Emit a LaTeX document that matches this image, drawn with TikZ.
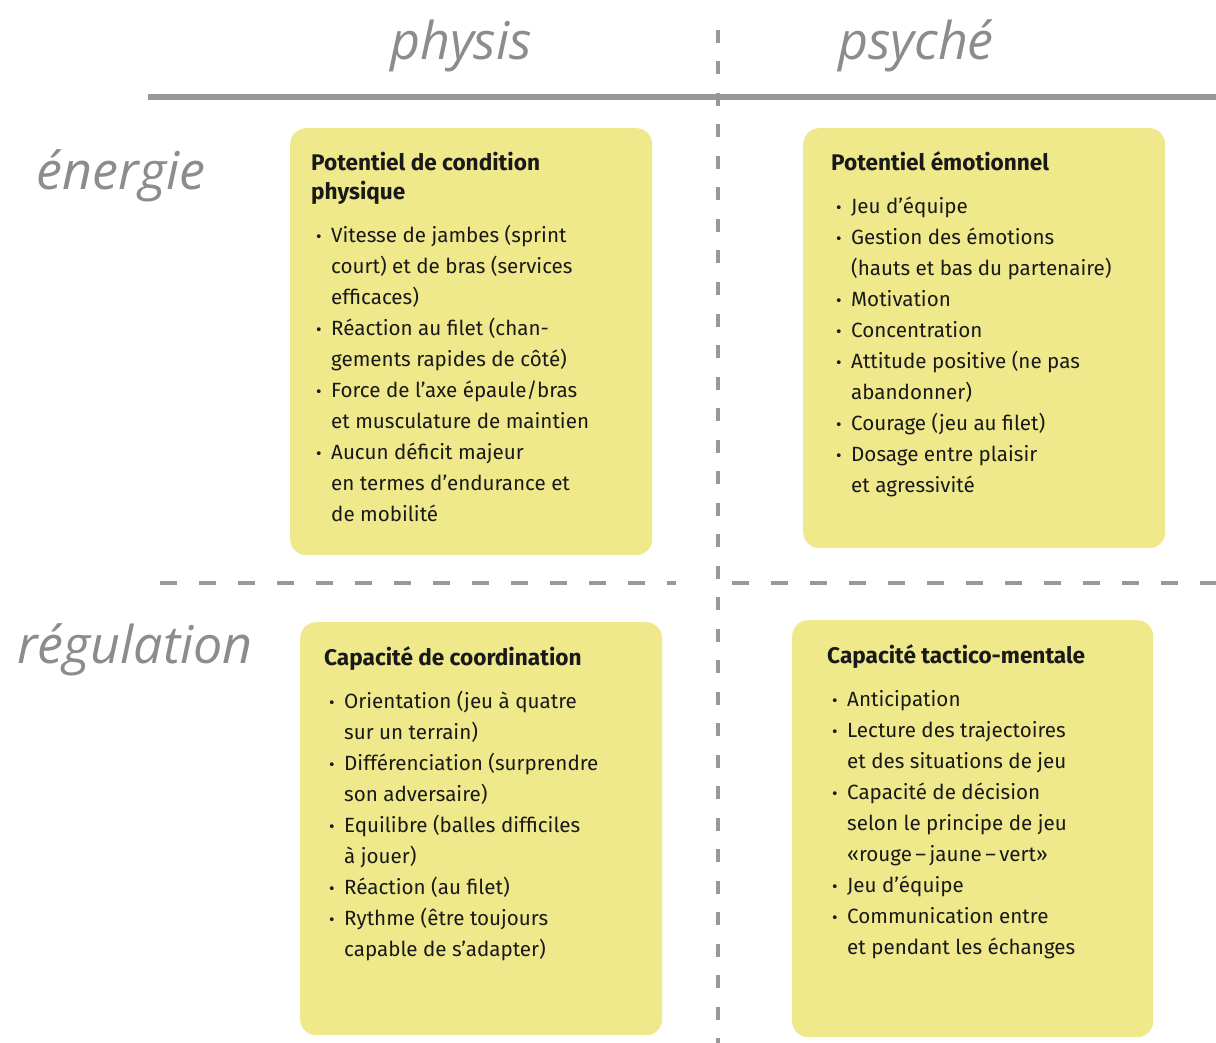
\documentclass[tikz,border=0pt]{standalone}
\usepackage{fontspec}
\setmainfont{Fira Sans}
\newfontfamily\handfont{Open Sans}
\usetikzlibrary{positioning}

\definecolor{marker}{RGB}{239,233,140}
\definecolor{pencil}{RGB}{140,140,140}
\definecolor{rulegrey}{RGB}{152,152,152}
\definecolor{ink}{RGB}{25,25,25}

\newcommand{\bul}{\makebox[15pt][l]{\raisebox{0.5pt}{\fontsize{17}{17}\selectfont •}}}
\newcommand{\cnt}{\hspace*{15pt}}

\tikzset{
  patch/.style={fill=marker, anchor=north west, inner sep=0pt, rounded corners=16pt},
  head/.style={font=\handfont\itshape\fontsize{52}{52}\selectfont, text=pencil, inner sep=0pt},
  boxtitle/.style={font=\bfseries\fontsize{22.6}{29}\selectfont, text=ink, align=left,
    anchor=north west, inner sep=0pt},
  boxlist/.style={font=\fontsize{20.6}{31}\selectfont, text=ink, align=left, inner sep=0pt},
  solidrule/.style={line width=6pt, draw=rulegrey},
  vdash/.style={line width=4pt, draw=rulegrey, dash pattern=on 13pt off 18.5pt},
  hdash/.style={line width=4pt, draw=rulegrey, dash pattern=on 17pt off 22pt}
}

\begin{document}
\begin{tikzpicture}[x=1pt, y=-1pt]
\useasboundingbox (0,0) rectangle (1216,1043);

% yellow patches
\node[patch, minimum width=362pt, minimum height=427pt] (physE) at (290,128) {};
\node[patch, minimum width=362pt, minimum height=420pt] (psyE) at (803,128) {};
\node[patch, minimum width=362pt, minimum height=413pt] (physR) at (300,622) {};
\node[patch, minimum width=361pt, minimum height=417pt] (psyR) at (792,620) {};

% grid lines
\coordinate (vTop) at (718,30);
\coordinate (vBot) at (718,1043);
\coordinate (sLeft) at (148,97);
\coordinate (sRight) at (1216,97);
\coordinate (dLeft) at (160,583);
\coordinate (dMidL) at (676,583);
\coordinate (dMidR) at (732,583);
\coordinate (dRight) at (1216,583);
\draw[vdash] (vTop) -- (vBot);
\draw[solidrule] (sLeft) -- (sRight);
\draw[hdash] (dLeft) -- (dMidL);
\draw[hdash] (dMidR) -- (dRight);

% headings
\node[head] (physis) at (461,46) {physis};
\node[head] (psyche) at (916,46) {psyché};
\node[head] (energie) at (121,176) {énergie};
\node[head] (regul) at (135,650) {régulation};

% top left
\node[boxtitle] (tPhysE) at (311,149.7) {\strut Potentiel de condition\\ physique\strut};
\node[boxlist, below right=12.5pt and 5pt of tPhysE.south west, anchor=north west] (lPhysE) {%
\strut\bul Vitesse de jambes (sprint\\
\cnt court) et de bras (services\\
\cnt efficaces)\\
\bul Réaction au filet (chan-\\
\cnt gements rapides de côté)\\
\bul Force de l’axe épaule/bras\\
\cnt et musculature de maintien\\
\bul Aucun déficit majeur\\
\cnt en termes d’endurance et\\
\cnt de mobilité};

% top right
\node[boxtitle] (tPsyE) at (831,149.7) {\strut Potentiel émotionnel\strut};
\node[boxlist, below right=12.5pt and 5pt of tPsyE.south west, anchor=north west] (lPsyE) {%
\strut\bul Jeu d’équipe\\
\bul Gestion des émotions\\
\cnt (hauts et bas du partenaire)\\
\bul Motivation\\
\bul Concentration\\
\bul Attitude positive (ne pas\\
\cnt abandonner)\\
\bul Courage (jeu au filet)\\
\bul Dosage entre plaisir\\
\cnt et agressivité};

% bottom left
\node[boxtitle] (tPhysR) at (324,644.7) {\strut Capacité de coordination\strut};
\node[boxlist, below right=12.5pt and 5pt of tPhysR.south west, anchor=north west] (lPhysR) {%
\strut\bul Orientation (jeu à quatre\\
\cnt sur un terrain)\\
\bul Différenciation (surprendre\\
\cnt son adversaire)\\
\bul Equilibre (balles difficiles\\
\cnt à jouer)\\
\bul Réaction (au filet)\\
\bul Rythme (être toujours\\
\cnt capable de s’adapter)};

% bottom right
\node[boxtitle] (tPsyR) at (827,642.7) {\strut Capacité tactico-mentale\strut};
\node[boxlist, below right=12.5pt and 5pt of tPsyR.south west, anchor=north west] (lPsyR) {%
\strut\bul Anticipation\\
\bul Lecture des trajectoires\\
\cnt et des situations de jeu\\
\bul Capacité de décision\\
\cnt selon le principe de jeu\\
\cnt «rouge\,–\,jaune\,–\,vert»\\
\bul Jeu d’équipe\\
\bul Communication entre\\
\cnt et pendant les échanges};
\end{tikzpicture}
\end{document}
